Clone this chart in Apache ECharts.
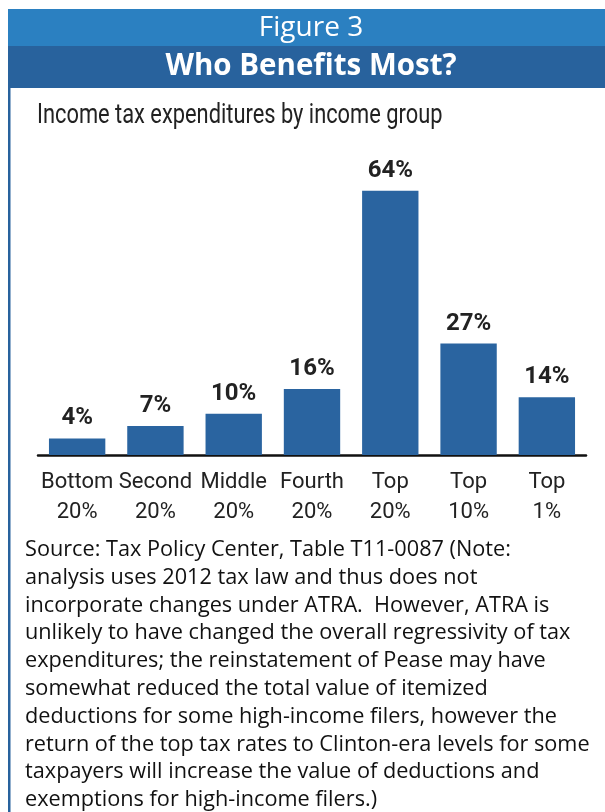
<!DOCTYPE html>
<html>
<head>
<meta charset="utf-8">
<script src="https://cdn.jsdelivr.net/npm/echarts@6/dist/echarts.min.js"></script>
<style>
  html, body { margin: 0; padding: 0; background: #fff; }
  #chart { width: 605px; height: 812px; }
</style>
</head>
<body>
<div id="chart"></div>
<script>
// Share of income tax expenditures by income group (percent)
const categories = ['Bottom 20%', 'Second 20%', 'Middle 20%', 'Fourth 20%', 'Top 20%', 'Top 10%', 'Top 1%'];
const shares = [4, 7, 10, 16, 64, 27, 14];

const figureLabel = 'Figure 3';
const headline = 'Who Benefits Most?';
const subtitle = 'Income tax expenditures by income group';
const sourceLines = [
  'Source: Tax Policy Center, Table T11-0087 (Note:',
  'analysis uses 2012 tax law and thus does not',
  'incorporate changes under ATRA.  However, ATRA is',
  'unlikely to have changed the overall regressivity of tax',
  'expenditures; the reinstatement of Pease may have',
  'somewhat reduced the total value of itemized',
  'deductions for some high-income filers, however the',
  'return of the top tax rates to Clinton-era levels for some',
  'taxpayers will increase the value of deductions and',
  'exemptions for high-income filers.)'
];

const labelFont = 'Roboto, "Noto Sans", sans-serif';
const lightBlue = '#2b80c1';
const darkBlue = '#28629d';
const barBlue = '#2a64a0';

const chart = echarts.init(document.getElementById('chart'), null, { renderer: 'canvas' });

chart.setOption({
  animation: false,
  backgroundColor: '#ffffff',
  graphic: [
    { type: 'rect', shape: { x: 8, y: 9, width: 597, height: 37 }, style: { fill: lightBlue }, z: 0 },
    { type: 'rect', shape: { x: 8, y: 46, width: 597, height: 42 }, style: { fill: darkBlue }, z: 0 },
    { type: 'rect', shape: { x: 8, y: 88, width: 2.5, height: 724 }, style: { fill: darkBlue }, z: 0 },
    {
      type: 'text', x: 311, y: 28, z: 5,
      style: { text: figureLabel, fill: '#fff', font: '28px "Open Sans", sans-serif', align: 'center', verticalAlign: 'middle' }
    },
    {
      type: 'text', x: 311, y: 67, z: 5,
      style: { text: headline, fill: '#fff', font: 'bold 29.5px "Open Sans", sans-serif', align: 'center', verticalAlign: 'middle' }
    },
    {
      // condensed look for the chart subtitle
      type: 'text', x: 37, y: 116, z: 5, scaleX: 0.78,
      style: { text: subtitle, fill: '#222', font: '28px Roboto, sans-serif', align: 'left', verticalAlign: 'middle' }
    },
    {
      type: 'text', x: 25, y: 536, z: 5,
      style: {
        text: sourceLines.join('\n'), fill: '#111',
        font: '21.7px "Open Sans", sans-serif', lineHeight: 27.8,
        align: 'left', verticalAlign: 'top'
      }
    }
  ],
  grid: { left: 38, right: 19, top: 166, bottom: 357, containLabel: false },
  xAxis: {
    type: 'category',
    data: categories,
    axisLine: { show: true, lineStyle: { color: '#111', width: 2.5 } },
    axisTick: { show: false },
    axisLabel: {
      interval: 0,
      margin: 12,
      color: '#222',
      fontFamily: labelFont,
      fontSize: 22,
      lineHeight: 30,
      formatter: v => v.replace(' ', '\n')
    }
  },
  yAxis: {
    type: 'value', min: 0, max: 70,
    show: false,
    splitLine: { show: false }
  },
  series: [{
    type: 'bar',
    data: shares,
    barWidth: '72%',
    itemStyle: { color: barBlue },
    label: {
      show: true,
      position: 'top',
      distance: 8,
      formatter: p => p.value + '%',
      color: '#222',
      fontFamily: labelFont,
      fontWeight: 'bold',
      fontSize: 24
    }
  }]
});
</script>
</body>
</html>
